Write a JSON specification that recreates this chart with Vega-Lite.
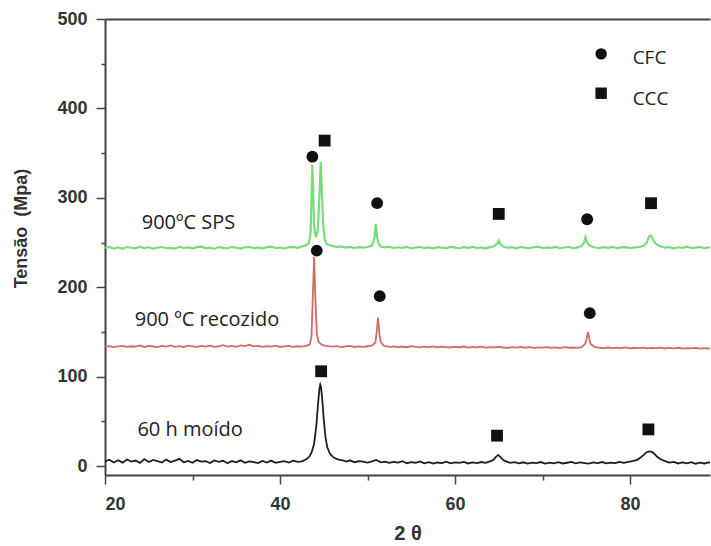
{
  "$schema": "https://vega.github.io/schema/vega-lite/v6.json",
  "width": 605,
  "height": 456,
  "autosize": "none",
  "padding": {"left": 105, "top": 19, "right": 1, "bottom": 71},
  "background": "white",
  "config": {
    "view": {"stroke": null},
    "axis": {
      "grid": false,
      "domainColor": "#444",
      "domainWidth": 2,
      "tickColor": "#444",
      "tickWidth": 1.5,
      "labelFont": "Liberation Sans",
      "labelFontWeight": "bold",
      "labelFontSize": 18,
      "labelColor": "#333",
      "titleFont": "Liberation Sans",
      "titleFontWeight": "bold",
      "titleFontSize": 18,
      "titleColor": "#333"
    }
  },
  "datasets": {
    "moido": [
      {"x":20,"y":5.2},{"x":20.5,"y":7.1},{"x":21,"y":4.0},{"x":21.5,"y":6.5},{"x":22,"y":3.8},{"x":22.5,"y":7.4},{"x":23,"y":5.0},{"x":23.5,"y":6.2},{"x":24,"y":3.5},{"x":24.5,"y":7.8},
      {"x":25,"y":4.6},{"x":25.5,"y":6.9},{"x":26,"y":5.5},{"x":26.5,"y":3.9},{"x":27,"y":7.2},{"x":27.5,"y":4.4},{"x":28,"y":6.0},{"x":28.5,"y":8.1},{"x":29,"y":4.2},{"x":29.5,"y":5.8},
      {"x":30,"y":3.6},{"x":30.5,"y":6.7},{"x":31,"y":4.9},{"x":31.5,"y":5.4},{"x":32,"y":3.4},{"x":32.5,"y":6.3},{"x":33,"y":4.7},{"x":33.5,"y":5.9},{"x":34,"y":3.2},{"x":34.5,"y":5.6},
      {"x":35,"y":4.1},{"x":35.5,"y":6.4},{"x":36,"y":3.7},{"x":36.5,"y":5.2},{"x":37,"y":4.5},{"x":37.5,"y":3.3},{"x":38,"y":5.7},{"x":38.5,"y":4.0},{"x":39,"y":6.1},{"x":39.5,"y":3.6},
      {"x":40,"y":4.8},{"x":40.5,"y":5.5},{"x":41,"y":3.9},{"x":41.5,"y":6.0},{"x":42,"y":4.6},{"x":42.5,"y":5.3},{"x":43,"y":7.5},{"x":43.3,"y":10},{"x":43.6,"y":15},{"x":43.9,"y":25},
      {"x":44.15,"y":45},{"x":44.35,"y":70},{"x":44.5,"y":86},{"x":44.6,"y":91},{"x":44.7,"y":88},{"x":44.85,"y":72},{"x":45.0,"y":52},{"x":45.2,"y":32},{"x":45.4,"y":21},{"x":45.7,"y":14},
      {"x":46.0,"y":10.5},{"x":46.4,"y":8.2},{"x":46.8,"y":7.0},{"x":47.2,"y":6.3},{"x":47.6,"y":5.1},{"x":48,"y":6.4},{"x":48.5,"y":4.3},{"x":49,"y":5.6},{"x":49.5,"y":4.9},{"x":50,"y":3.8},
      {"x":50.5,"y":5.2},{"x":51,"y":6.8},{"x":51.5,"y":4.1},{"x":52,"y":5.0},{"x":52.5,"y":3.5},{"x":53,"y":4.7},{"x":53.5,"y":3.9},{"x":54,"y":5.4},{"x":54.5,"y":3.2},{"x":55,"y":4.4},
      {"x":55.5,"y":3.7},{"x":56,"y":5.1},{"x":56.5,"y":3.0},{"x":57,"y":4.3},{"x":57.5,"y":2.8},{"x":58,"y":4.0},{"x":58.5,"y":3.4},{"x":59,"y":5.0},{"x":59.5,"y":3.1},{"x":60,"y":4.2},
      {"x":60.5,"y":3.5},{"x":61,"y":4.6},{"x":61.5,"y":2.9},{"x":62,"y":4.1},{"x":62.5,"y":3.3},{"x":63,"y":4.5},{"x":63.5,"y":3.6},{"x":64,"y":5.2},{"x":64.4,"y":7.0},{"x":64.7,"y":10.5},
      {"x":64.95,"y":12.5},{"x":65.2,"y":10},{"x":65.5,"y":6.8},{"x":65.9,"y":4.9},{"x":66.3,"y":3.6},{"x":66.8,"y":4.4},{"x":67.3,"y":3.0},{"x":67.8,"y":4.2},{"x":68.3,"y":2.8},{"x":68.8,"y":3.9},
      {"x":69.3,"y":3.2},{"x":69.8,"y":4.5},{"x":70.3,"y":2.7},{"x":70.8,"y":3.8},{"x":71.3,"y":3.1},{"x":71.8,"y":4.4},{"x":72.3,"y":2.9},{"x":72.8,"y":3.7},{"x":73.3,"y":4.6},{"x":73.8,"y":3.0},
      {"x":74.3,"y":4.1},{"x":74.8,"y":3.4},{"x":75.3,"y":2.8},{"x":75.8,"y":4.0},{"x":76.3,"y":3.2},{"x":76.8,"y":4.5},{"x":77.3,"y":3.0},{"x":77.8,"y":3.9},{"x":78.3,"y":3.3},{"x":78.8,"y":4.6},
      {"x":79.3,"y":3.5},{"x":79.8,"y":4.8},{"x":80.3,"y":5.4},{"x":80.8,"y":6.9},{"x":81.2,"y":9.5},{"x":81.6,"y":12.8},{"x":81.9,"y":15.5},{"x":82.2,"y":16.3},{"x":82.5,"y":15.8},{"x":82.8,"y":13.5},
      {"x":83.1,"y":10.4},{"x":83.5,"y":7.6},{"x":84,"y":5.5},{"x":84.5,"y":3.8},{"x":85,"y":4.6},{"x":85.5,"y":2.9},{"x":86,"y":4.0},{"x":86.5,"y":3.1},{"x":87,"y":4.3},{"x":87.5,"y":2.6},
      {"x":88,"y":3.8},{"x":88.5,"y":2.9},{"x":89,"y":4.1},{"x":89.5,"y":3.0},{"x":90,"y":3.6}
    ],
    "recozido": [
      {"x":20,"y":133.6},{"x":20.5,"y":134.2},{"x":21,"y":133.1},{"x":21.5,"y":133.9},{"x":22,"y":134.5},{"x":22.5,"y":133.3},{"x":23,"y":134.0},{"x":23.5,"y":133.5},{"x":24,"y":134.8},{"x":24.5,"y":133.2},
      {"x":25,"y":134.3},{"x":25.5,"y":133.7},{"x":26,"y":133.0},{"x":26.5,"y":134.4},{"x":27,"y":133.6},{"x":27.5,"y":134.9},{"x":28,"y":133.4},{"x":28.5,"y":134.1},{"x":29,"y":133.2},{"x":29.5,"y":134.6},
      {"x":30,"y":133.8},{"x":30.5,"y":133.1},{"x":31,"y":134.3},{"x":31.5,"y":133.5},{"x":32,"y":134.7},{"x":32.5,"y":133.3},{"x":33,"y":134.0},{"x":33.5,"y":135.2},{"x":34,"y":133.6},{"x":34.5,"y":134.4},
      {"x":35,"y":133.4},{"x":35.5,"y":135.0},{"x":36,"y":134.2},{"x":36.5,"y":135.6},{"x":37,"y":133.9},{"x":37.5,"y":134.5},{"x":38,"y":133.3},{"x":38.5,"y":134.1},{"x":39,"y":133.5},{"x":39.5,"y":134.6},
      {"x":40,"y":133.2},{"x":40.5,"y":133.9},{"x":41,"y":134.3},{"x":41.5,"y":133.4},{"x":42,"y":134.0},{"x":42.5,"y":133.6},{"x":43,"y":134.5},{"x":43.4,"y":136},{"x":43.6,"y":145},{"x":43.75,"y":190},
      {"x":43.9,"y":234},{"x":44.05,"y":185},{"x":44.2,"y":148},{"x":44.4,"y":139},{"x":44.7,"y":136.2},{"x":45,"y":135.0},{"x":45.5,"y":134.1},{"x":46,"y":133.5},{"x":46.5,"y":134.2},{"x":47,"y":133.0},
      {"x":47.5,"y":133.8},{"x":48,"y":134.3},{"x":48.5,"y":133.2},{"x":49,"y":133.9},{"x":49.5,"y":133.4},{"x":50,"y":134.0},{"x":50.5,"y":134.6},{"x":50.9,"y":138},{"x":51.05,"y":150},{"x":51.2,"y":166},
      {"x":51.35,"y":149},{"x":51.5,"y":139},{"x":51.8,"y":135.2},{"x":52,"y":134.0},{"x":52.5,"y":133.3},{"x":53,"y":133.9},{"x":53.5,"y":133.1},{"x":54,"y":133.7},{"x":54.5,"y":132.9},{"x":55,"y":134.2},
      {"x":55.5,"y":133.4},{"x":56,"y":132.8},{"x":56.5,"y":133.6},{"x":57,"y":133.0},{"x":57.5,"y":133.9},{"x":58,"y":132.7},{"x":58.5,"y":133.5},{"x":59,"y":133.1},{"x":59.5,"y":132.6},{"x":60,"y":133.4},
      {"x":60.5,"y":132.9},{"x":61,"y":133.7},{"x":61.5,"y":132.5},{"x":62,"y":133.2},{"x":62.5,"y":132.8},{"x":63,"y":133.5},{"x":63.5,"y":132.4},{"x":64,"y":133.1},{"x":64.5,"y":132.7},{"x":65,"y":133.3},
      {"x":65.5,"y":132.6},{"x":66,"y":132.2},{"x":66.5,"y":133.0},{"x":67,"y":132.5},{"x":67.5,"y":133.2},{"x":68,"y":132.3},{"x":68.5,"y":132.9},{"x":69,"y":132.1},{"x":69.5,"y":132.8},{"x":70,"y":132.4},
      {"x":70.5,"y":133.0},{"x":71,"y":132.2},{"x":71.5,"y":132.7},{"x":72,"y":132.0},{"x":72.5,"y":132.9},{"x":73,"y":132.3},{"x":73.5,"y":132.6},{"x":74,"y":132.1},{"x":74.5,"y":133.0},{"x":74.9,"y":137},
      {"x":75.05,"y":143},{"x":75.2,"y":150},{"x":75.35,"y":142},{"x":75.5,"y":136.5},{"x":75.9,"y":133.4},{"x":76.5,"y":132.3},{"x":77,"y":131.9},{"x":77.5,"y":132.6},{"x":78,"y":131.8},{"x":78.5,"y":132.4},
      {"x":79,"y":132.0},{"x":79.5,"y":132.7},{"x":80,"y":131.7},{"x":80.5,"y":132.3},{"x":81,"y":131.9},{"x":81.5,"y":132.5},{"x":82,"y":131.6},{"x":82.5,"y":132.2},{"x":83,"y":131.8},{"x":83.5,"y":132.4},
      {"x":84,"y":131.5},{"x":84.5,"y":132.1},{"x":85,"y":131.7},{"x":85.5,"y":132.3},{"x":86,"y":131.4},{"x":86.5,"y":132.0},{"x":87,"y":131.6},{"x":87.5,"y":132.2},{"x":88,"y":131.3},{"x":88.5,"y":131.9},
      {"x":89,"y":131.5},{"x":89.5,"y":132.1},{"x":90,"y":131.4}
    ],
    "sps": [
      {"x":20,"y":244.0},{"x":20.5,"y":245.1},{"x":21,"y":243.3},{"x":21.5,"y":244.6},{"x":22,"y":243.0},{"x":22.5,"y":244.9},{"x":23,"y":244.2},{"x":23.5,"y":243.5},{"x":24,"y":245.3},{"x":24.5,"y":243.8},
      {"x":25,"y":244.7},{"x":25.5,"y":242.9},{"x":26,"y":244.4},{"x":26.5,"y":245.0},{"x":27,"y":243.6},{"x":27.5,"y":244.1},{"x":28,"y":243.2},{"x":28.5,"y":245.2},{"x":29,"y":243.9},{"x":29.5,"y":244.6},
      {"x":30,"y":243.4},{"x":30.5,"y":244.8},{"x":31,"y":245.4},{"x":31.5,"y":243.7},{"x":32,"y":244.3},{"x":32.5,"y":243.1},{"x":33,"y":244.9},{"x":33.5,"y":244.0},{"x":34,"y":243.6},{"x":34.5,"y":245.1},
      {"x":35,"y":244.2},{"x":35.5,"y":243.3},{"x":36,"y":244.7},{"x":36.5,"y":245.0},{"x":37,"y":243.8},{"x":37.5,"y":244.5},{"x":38,"y":243.4},{"x":38.5,"y":244.9},{"x":39,"y":245.3},{"x":39.5,"y":243.9},
      {"x":40,"y":244.4},{"x":40.5,"y":243.2},{"x":41,"y":244.8},{"x":41.5,"y":245.2},{"x":42,"y":244.1},{"x":42.5,"y":245.6},{"x":43,"y":246.8},{"x":43.3,"y":249},{"x":43.5,"y":262},{"x":43.6,"y":300},
      {"x":43.7,"y":337},{"x":43.8,"y":305},{"x":43.9,"y":268},{"x":44.1,"y":256},{"x":44.3,"y":262},{"x":44.5,"y":300},{"x":44.65,"y":340},{"x":44.8,"y":305},{"x":44.95,"y":268},{"x":45.1,"y":254},
      {"x":45.3,"y":249},{"x":45.5,"y":247.5},{"x":46,"y":246.2},{"x":46.5,"y":245.0},{"x":47,"y":245.6},{"x":47.5,"y":244.3},{"x":48,"y":245.1},{"x":48.5,"y":243.9},{"x":49,"y":244.8},{"x":49.5,"y":244.2},
      {"x":50,"y":245.0},{"x":50.5,"y":246.5},{"x":50.8,"y":255},{"x":50.95,"y":271},{"x":51.1,"y":256},{"x":51.3,"y":248},{"x":51.6,"y":245.2},{"x":52,"y":244.6},{"x":52.5,"y":245.3},{"x":53,"y":243.9},
      {"x":53.5,"y":244.7},{"x":54,"y":244.0},{"x":54.5,"y":245.2},{"x":55,"y":243.6},{"x":55.5,"y":244.4},{"x":56,"y":245.0},{"x":56.5,"y":243.8},{"x":57,"y":244.6},{"x":57.5,"y":243.5},{"x":58,"y":244.9},
      {"x":58.5,"y":244.2},{"x":59,"y":243.7},{"x":59.5,"y":245.1},{"x":60,"y":244.3},{"x":60.5,"y":243.6},{"x":61,"y":244.8},{"x":61.5,"y":244.0},{"x":62,"y":245.2},{"x":62.5,"y":243.9},{"x":63,"y":244.5},
      {"x":63.5,"y":243.4},{"x":64,"y":244.9},{"x":64.5,"y":246.0},{"x":64.85,"y":249},{"x":65.0,"y":252},{"x":65.15,"y":248.5},{"x":65.5,"y":245.5},{"x":66,"y":244.2},{"x":66.5,"y":244.8},{"x":67,"y":243.6},
      {"x":67.5,"y":245.0},{"x":68,"y":244.3},{"x":68.5,"y":243.8},{"x":69,"y":244.7},{"x":69.5,"y":245.3},{"x":70,"y":243.9},{"x":70.5,"y":244.6},{"x":71,"y":244.0},{"x":71.5,"y":245.1},{"x":72,"y":243.7},
      {"x":72.5,"y":244.4},{"x":73,"y":245.0},{"x":73.5,"y":243.8},{"x":74,"y":244.6},{"x":74.5,"y":246.5},{"x":74.75,"y":250},{"x":74.9,"y":256},{"x":75.05,"y":251},{"x":75.3,"y":246.8},{"x":75.7,"y":245.2},
      {"x":76,"y":244.4},{"x":76.5,"y":243.9},{"x":77,"y":244.8},{"x":77.5,"y":244.1},{"x":78,"y":245.2},{"x":78.5,"y":243.7},{"x":79,"y":244.5},{"x":79.5,"y":244.9},{"x":80,"y":243.8},{"x":80.5,"y":244.6},
      {"x":81,"y":245.0},{"x":81.5,"y":246.2},{"x":81.9,"y":250},{"x":82.2,"y":257},{"x":82.4,"y":258},{"x":82.6,"y":254},{"x":82.9,"y":249},{"x":83.3,"y":246.3},{"x":83.7,"y":245.1},{"x":84,"y":244.2},
      {"x":84.5,"y":244.9},{"x":85,"y":243.6},{"x":85.5,"y":244.7},{"x":86,"y":244.1},{"x":86.5,"y":245.3},{"x":87,"y":243.9},{"x":87.5,"y":244.4},{"x":88,"y":245.0},{"x":88.5,"y":243.7},{"x":89,"y":244.6},
      {"x":89.5,"y":244.2},{"x":90,"y":244.8}
    ],
    "fases": [
      {"x":43.7,"y":346,"fase":"CFC"},{"x":51.1,"y":294,"fase":"CFC"},{"x":75.1,"y":276,"fase":"CFC"},
      {"x":44.2,"y":241,"fase":"CFC"},{"x":51.4,"y":190,"fase":"CFC"},{"x":75.4,"y":171,"fase":"CFC"},
      {"x":45.1,"y":364,"fase":"CCC"},{"x":65.0,"y":282,"fase":"CCC"},{"x":82.4,"y":294,"fase":"CCC"},
      {"x":44.7,"y":106,"fase":"CCC"},{"x":64.8,"y":34,"fase":"CCC"},{"x":82.1,"y":41,"fase":"CCC"}
    ],
    "rotulos": [
      {"x":24.2,"y":272,"t":"900ºC SPS"},
      {"x":23.4,"y":163,"t":"900 ºC recozido"},
      {"x":23.7,"y":40,"t":"60 h moído"}
    ],
    "legenda": [
      {"x":76.7,"y":461,"xt":80.3,"yt":456,"fase":"CFC"},
      {"x":76.7,"y":417,"xt":80.3,"yt":411,"fase":"CCC"}
    ]
  },
  "layer": [
    {
      "data": {"name": "moido"},
      "mark": {"type": "line", "color": "#1e1e1e", "strokeWidth": 1.8, "clip": true},
      "encoding": {
        "x": {"field": "x", "type": "quantitative",
              "scale": {"domain": [20, 89.14], "nice": false, "zero": false},
              "axis": {"orient": "bottom", "values": [20, 40, 60, 80], "tickSize": 9, "labelPadding": 11, "title": "2 θ", "titlePadding": 10, "titleFontSize": 20}},
        "y": {"field": "y", "type": "quantitative",
              "scale": {"domain": [-10, 500], "nice": false, "zero": false},
              "axis": {"orient": "left", "values": [0, 100, 200, 300, 400, 500], "tickSize": 9, "labelPadding": 9, "title": "Tensão \u00a0(Mpa)", "titlePadding": 26, "titleY": 209}}
      }
    },
    {
      "data": {"name": "recozido"},
      "mark": {"type": "line", "color": "#d26a6a", "strokeWidth": 1.8, "clip": true},
      "encoding": {
        "x": {"field": "x", "type": "quantitative",
              "axis": {"orient": "bottom", "values": [30, 50, 70], "tickSize": 5, "labels": false, "domain": false, "title": null}},
        "y": {"field": "y", "type": "quantitative",
              "axis": {"orient": "left", "values": [50, 150, 250, 350, 450], "tickSize": 4, "labels": false, "domain": false, "title": null}}
      }
    },
    {
      "data": {"name": "sps"},
      "mark": {"type": "line", "color": "#78dc78", "strokeWidth": 2.2, "clip": true},
      "encoding": {
        "x": {"field": "x", "type": "quantitative",
              "axis": {"orient": "top", "ticks": false, "labels": false, "title": null}},
        "y": {"field": "y", "type": "quantitative", "axis": null}
      }
    },
    {
      "data": {"name": "fases"},
      "mark": {"type": "point", "filled": true, "color": "#111", "opacity": 1, "size": 140},
      "encoding": {
        "x": {"field": "x", "type": "quantitative", "axis": null},
        "y": {"field": "y", "type": "quantitative", "axis": null},
        "shape": {"field": "fase", "type": "nominal", "scale": {"domain": ["CFC", "CCC"], "range": ["circle", "square"]}, "legend": null}
      }
    },
    {
      "data": {"name": "rotulos"},
      "mark": {"type": "text", "align": "left", "baseline": "middle", "font": "Open Sans", "fontSize": 20, "color": "#222"},
      "encoding": {
        "x": {"field": "x", "type": "quantitative", "axis": null},
        "y": {"field": "y", "type": "quantitative", "axis": null},
        "text": {"field": "t"}
      }
    },
    {
      "data": {"name": "legenda"},
      "mark": {"type": "point", "filled": true, "color": "#111", "opacity": 1, "size": 130},
      "encoding": {
        "x": {"field": "x", "type": "quantitative", "axis": null},
        "y": {"field": "y", "type": "quantitative", "axis": null},
        "shape": {"field": "fase", "type": "nominal", "legend": null}
      }
    },
    {
      "data": {"name": "legenda"},
      "mark": {"type": "text", "align": "left", "baseline": "middle", "font": "Open Sans", "fontSize": 19, "color": "#222"},
      "encoding": {
        "x": {"field": "xt", "type": "quantitative", "axis": null},
        "y": {"field": "yt", "type": "quantitative", "axis": null},
        "text": {"field": "fase"}
      }
    }
  ],
  "resolve": {"axis": {"x": "independent", "y": "independent"}}
}
